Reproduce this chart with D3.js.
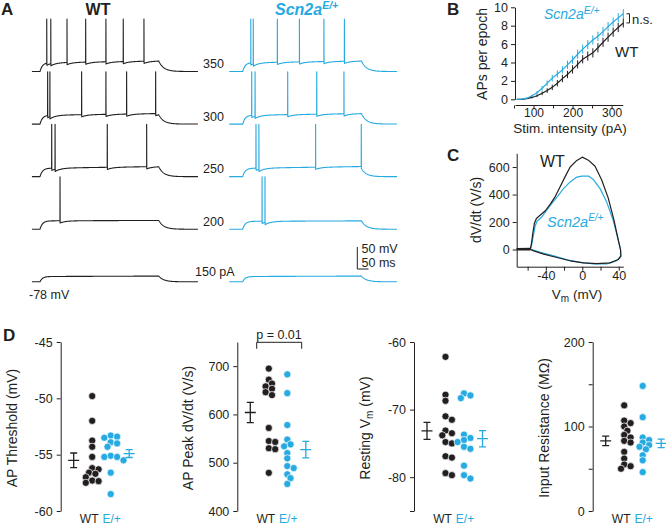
<!DOCTYPE html>
<html><head><meta charset="utf-8">
<script src="https://cdn.jsdelivr.net/npm/d3@7"></script>
<style>
body{margin:0;background:#fff}
svg{display:block}
text{font-family:"Liberation Sans",Arial,Helvetica,sans-serif;fill:#231f20}
</style>
</head><body>
<svg id="fig" width="666" height="526"></svg>
<script>
// ================= DATA =================
// Panel A: current steps (pA), spike times (ms), plateau depolarisation (mV)
const stepLabels = ["350", "300", "250", "200", "150 pA"];
const restVm = -78;          // mV
const spikePeakVm = 41;      // mV
const stepOnMs = 50, stepOffMs = 578;
const wtSpikeTimes = [
  [80, 98, 170, 253, 343, 420, 512],
  [84, 94, 235, 343, 435, 564],
  [102, 117, 349, 524],
  [139],
  []
];
const e2SpikeTimes = [
  [86, 97, 204, 302, 411, 502],
  [90, 105, 250, 379, 500],
  [109, 122, 374, 577],
  [136, 149],
  []
];
const wtPlateau = [20, 20, 19, 19, 12];
const e2Plateau = [20, 20, 19, 18, 12];
const plateauRamp = [4, 4, 4, 1, 1];

// Panel B: APs per epoch vs stimulus
const stimPA = [57, 70, 83, 96, 109, 122, 135, 148, 161, 174, 187, 200, 213, 226, 239, 252, 265, 278, 291, 304, 317, 330];
const apsWT  = [0, 0, 0.08, 0.2, 0.38, 0.65, 0.95, 1.3, 1.75, 2.25, 2.7, 3.25, 3.8, 4.35, 4.7, 5.05, 5.6, 6.2, 6.75, 7.3, 7.8, 8.3];
const semWT  = [0, 0, 0.05, 0.1, 0.15, 0.2, 0.25, 0.3, 0.35, 0.4, 0.4, 0.45, 0.45, 0.45, 0.5, 0.5, 0.5, 0.5, 0.5, 0.5, 0.5, 0.5];
const apsE2  = [0, 0.02, 0.12, 0.38, 0.72, 1.2, 1.75, 2.3, 2.75, 3.2, 3.75, 4.3, 4.9, 5.45, 5.95, 6.45, 6.85, 7.35, 7.9, 8.4, 8.85, 9.3];
const semE2  = [0, 0.02, 0.06, 0.12, 0.18, 0.25, 0.3, 0.35, 0.4, 0.4, 0.45, 0.45, 0.5, 0.5, 0.5, 0.5, 0.5, 0.5, 0.5, 0.5, 0.5, 0.5];

// Panel C: phase plots [Vm (mV), dV/dt (V/s)]
const phaseRest = [[-72, 2], [-57, 3]];
const phaseWT = [[-72.4, 2], [-57, 4], [-55.9, 40], [-54.5, 110], [-52.6, 190], [-50.4, 226], [-46, 251], [-40.6, 282],
  [-35.1, 330], [-29.6, 387], [-24.2, 459], [-18.7, 532], [-13.3, 600], [-6, 648], [0, 672], [6.7, 650], [14, 606],
  [21.2, 508], [28.5, 374], [34.7, 215], [39.5, 68], [42, -5], [42.4, -48], [39.5, -73], [30.4, -97], [15.9, -102],
  [1.4, -97], [-13.3, -82], [-27.8, -58], [-42.4, -34], [-53.3, -10], [-57, 0]];
const phaseE2 = [[-72.4, 2], [-57, 4], [-55.5, 35], [-53.7, 101], [-51.9, 167], [-49.7, 206], [-45.3, 231], [-40.6, 272],
  [-35.1, 321], [-27.8, 382], [-20.6, 443], [-13.3, 492], [-6, 527], [-0.5, 534], [6.7, 534], [12.2, 509], [19.5, 443],
  [26.8, 345], [34, 211], [39.5, 68], [42, 0], [42, -48], [37.7, -82], [26.8, -104], [12.2, -104], [-2.2, -94],
  [-16.7, -75], [-31.3, -46], [-45.9, -20], [-57, 4]];

// Panel D: individual cells and mean ± SEM
const groups = ["WT", "E/+"];
const thrWT = [-49.8, -52.0, -53.75, -54.3, -55.2, -56.2, -56.3, -56.6, -56.7, -57.0, -57.3, -57.35, -57.5];
const thrE2 = [-53.3, -53.4, -53.5, -53.9, -54.0, -54.3, -55.1, -55.2, -55.2, -55.5, -56.6, -58.5];
const thrMean = [-55.5, -54.9], thrSem = [0.65, 0.35];
const peakWT = [695, 672, 664, 658, 653, 646, 640, 572, 545, 543, 530, 528, 479];
const peakE2 = [683, 644, 578, 548, 538, 534, 520, 509, 493, 489, 476, 468, 456];
const peakMean = [604, 527], peakSem = [21, 17];
const vmWT = [-62.2, -67.8, -68.7, -71.0, -71.5, -73.1, -73.5, -73.8, -74.8, -75.0, -76.9, -77.1, -79.4, -79.7];
const vmE2 = [-67.6, -67.9, -68.3, -73.7, -74.2, -74.5, -74.8, -75.5, -75.8, -78.3, -79.7, -80.2];
const vmMean = [-73.15, -74.3], vmSem = [1.25, 1.2];
const riWT = [125, 107, 104, 100, 95, 90, 87, 83, 81, 70, 62, 55, 53, 50];
const riE2 = [148, 111, 87, 84, 81, 78, 76, 73, 66, 60, 46];
const riMean = [83, 80], riSem = [5.7, 5];

// ================= DRAWING =================
const BLACK = "#231f20", BLUE = "#27aae1";
const svg = d3.select("#fig");
const FONT = '"Liberation Sans",Arial,Helvetica,sans-serif';

function panelLetter(t, x, y) {
  svg.append("text").attr("x", x).attr("y", y).text(t)
    .style("font-size", "17px").style("font-weight", "bold");
}
function styleAxis(g, fs) {
  g.attr("color", BLACK);
  g.selectAll("path, line").attr("stroke", BLACK).attr("stroke-width", 1);
  g.selectAll("text").style("font-family", FONT).style("font-size", fs || "12.5px").attr("fill", BLACK);
}
function scnLabel(g, x, y, fs, supFs, opts) {
  const t = g.append("text").attr("x", x).attr("y", y).attr("fill", BLUE).style("fill", BLUE)
    .style("font-size", fs + "px").style("font-style", "italic");
  if (opts && opts.bold) t.style("font-weight", "bold");
  t.append("tspan").text("Scn2a");
  t.append("tspan").attr("dy", -fs * 0.38).style("font-size", supFs + "px").text("E/+");
  return t;
}

// ---------- Panel A ----------
panelLetter("A", 1, 15);
const tScale = d3.scaleLinear().domain([0, 50]).range([0, 11.25]);        // 50 ms = 11.25 px
const vScale = d3.scaleLinear().domain([restVm, restVm + 50]).range([0, -22]); // 50 mV = 22 px
const traceBase = d3.scaleLinear().domain([0, 4]).range([71.5, 281.8]);

function buildTrace(spikes, plat, ramp, t0, t1) {
  const tauOn = 11, tauOff = 22, ahp = 5, tauAhp = 25;
  const base = t => {
    let v = restVm;
    if (t > stepOnMs) {
      const tt = Math.min(t, stepOffMs);
      let d = plat * (1 - Math.exp(-(tt - stepOnMs) / tauOn)) + ramp * (tt - stepOnMs) / (stepOffMs - stepOnMs);
      if (t > stepOffMs) d *= Math.exp(-(t - stepOffMs) / tauOff);
      v += d;
    }
    spikes.forEach(s => { if (t > s) v -= ahp * Math.exp(-(t - s) / tauAhp); });
    return v;
  };
  let ts = [];
  for (let t = t0; t <= t1; t += 1.5) ts.push(t);
  spikes.forEach(s => ts.push(s - 0.3, s + 0.5, s + 1.5));
  ts.push(stepOnMs, stepOffMs, t1);
  ts = ts.filter(t => t >= t0 && t <= t1).sort((a, b) => a - b);
  const pts = ts.map(t => [t, base(t)]);
  spikes.forEach(s => pts.push([s, spikePeakVm]));
  pts.sort((a, b) => a[0] - b[0]);
  return pts;
}

function drawTraces(originX, spikeSets, plats, color, t0, t1) {
  spikeSets.forEach((sp, i) => {
    const pts = buildTrace(sp, plats[i], plateauRamp[i], t0, t1);
    const y0 = traceBase(i);
    const line = d3.line().x(d => originX + tScale(d[0])).y(d => y0 + vScale(d[1]));
    svg.append("path").datum(pts).attr("d", line).attr("fill", "none")
      .attr("stroke", color).attr("stroke-width", 1.1).attr("stroke-linejoin", "round");
  });
}
drawTraces(28.75, wtSpikeTimes, wtPlateau, BLACK, 14, 752);
drawTraces(231.45, e2SpikeTimes, e2Plateau, BLUE, -10, 736);

svg.append("text").attr("x", 98).attr("y", 15).attr("text-anchor", "middle")
  .style("font-size", "16px").style("font-weight", "bold").text("WT");
scnLabel(svg, 275, 15, 16, 10.5, { bold: true });

stepLabels.forEach((lab, i) => {
  const last = i === stepLabels.length - 1;
  svg.append("text").attr("x", last ? 195 : 203).attr("y", traceBase(i) - (last ? 5.5 : 3.2))
    .style("font-size", "12.5px").text(lab);
});
svg.append("text").attr("x", 29).attr("y", 299).style("font-size", "12.5px").text("-78 mV");

// scale bar
const sbX = 357.3, sbY = 269;
svg.append("path").attr("fill", "none").attr("stroke", BLACK).attr("stroke-width", 1)
  .attr("d", `M${sbX},${sbY + vScale(restVm + 50)}V${sbY}H${sbX + tScale(50)}`);
svg.append("text").attr("x", 361.5).attr("y", 252.5).style("font-size", "12.5px").text("50 mV");
svg.append("text").attr("x", 361.5).attr("y", 266.5).style("font-size", "12.5px").text("50 ms");

// ---------- Panel B ----------
panelLetter("B", 447, 15);
const xB = d3.scaleLinear().domain([50, 330]).range([514, 623.3]);
const yB = d3.scaleLinear().domain([0, 10]).range([99.3, 7.3]);
const gBy = svg.append("g").attr("transform", "translate(515,0)")
  .call(d3.axisLeft(yB).tickValues([0, 2, 4, 6, 8, 10]).tickSize(4).tickSizeOuter(0).tickPadding(3));
styleAxis(gBy);
const gBx = svg.append("g").attr("transform", "translate(0,105.5)")
  .call(d3.axisBottom(xB).tickValues([50, 100, 150, 200, 250, 300]).tickSize(3).tickSizeOuter(0).tickPadding(0)
    .tickFormat(d => (d % 100 === 0 ? d : "")));
styleAxis(gBx, "12px");
gBx.select(".domain").attr("d", `M${xB(50) + 1.5},0H${xB(330)}`);

function drawCurve(vals, sems, color) {
  const g = svg.append("g");
  g.selectAll("line").data(stimPA).join("line")
    .attr("x1", (d, i) => xB(d)).attr("x2", (d, i) => xB(d))
    .attr("y1", (d, i) => yB(vals[i] - sems[i])).attr("y2", (d, i) => yB(vals[i] + sems[i]))
    .attr("stroke", color).attr("stroke-width", 1);
  g.append("path").datum(stimPA.map((s, i) => [s, vals[i]]))
    .attr("d", d3.line().x(d => xB(d[0])).y(d => yB(d[1])))
    .attr("fill", "none").attr("stroke", color).attr("stroke-width", 1.2);
}
drawCurve(apsWT, semWT, BLACK);
drawCurve(apsE2, semE2, BLUE);
scnLabel(svg, 544, 19, 14, 10.5, {});
svg.append("text").attr("x", 615).attr("y", 57).style("font-size", "15px").text("WT");
const nsTop = yB(apsE2[apsE2.length - 1]), nsBot = yB(apsWT[apsWT.length - 1]);
svg.append("path").attr("fill", "none").attr("stroke", BLACK).attr("stroke-width", 1)
  .attr("d", `M626.5,${nsTop}H629.5V${nsBot}H626.5`);
svg.append("text").attr("x", 632).attr("y", 23.5).style("font-size", "13px").text("n.s.");
svg.append("text").attr("transform", "translate(487,54) rotate(-90)").attr("text-anchor", "middle")
  .style("font-size", "14px").text("APs per epoch");
svg.append("text").attr("x", 570).attr("y", 133).attr("text-anchor", "middle")
  .style("font-size", "13.5px").text("Stim. intensity (pA)");

// ---------- Panel C ----------
panelLetter("C", 447, 161);
const xC = d3.scaleLinear().domain([-72, 45]).range([516.7, 623.3]);
const yC = d3.scaleLinear().domain([-125, 700]).range([266.7, 153.3]);
const gCy = svg.append("g").attr("transform", "translate(516.7,0)")
  .call(d3.axisLeft(yC).tickValues([0, 200, 400, 600]).tickSize(4).tickSizeOuter(0).tickPadding(3));
styleAxis(gCy);
const gCx = svg.append("g").attr("transform", "translate(0,266.7)")
  .call(d3.axisBottom(xC).tickValues([-60, -40, -20, 0, 20, 40]).tickSize(4).tickSizeOuter(0).tickPadding(0)
    .tickFormat(d => (d % 40 === 0 ? String(d) : "")));
styleAxis(gCx);
const phaseLine = d3.line().x(d => xC(d[0])).y(d => yC(d[1]));
svg.append("path").datum(phaseE2).attr("d", phaseLine).attr("fill", "none")
  .attr("stroke", BLUE).attr("stroke-width", 1.2).attr("stroke-linejoin", "round");
svg.append("path").datum(phaseWT).attr("d", phaseLine).attr("fill", "none")
  .attr("stroke", BLACK).attr("stroke-width", 1.2).attr("stroke-linejoin", "round");
svg.append("path").datum(phaseRest).attr("d", phaseLine).attr("fill", "none")
  .attr("stroke", BLACK).attr("stroke-width", 2.6);
svg.append("text").attr("x", 540).attr("y", 167).style("font-size", "16px").text("WT");
scnLabel(svg, 547, 227, 14.5, 10, {});
svg.append("text").attr("transform", "translate(481,210) rotate(-90)").attr("text-anchor", "middle")
  .style("font-size", "14px").text("dV/dt (V/s)");
const vmLab = svg.append("text").attr("x", 577).attr("y", 298.5).attr("text-anchor", "middle").style("font-size", "13.5px");
vmLab.append("tspan").text("V");
vmLab.append("tspan").attr("dy", 3).style("font-size", "10px").text("m");
vmLab.append("tspan").attr("dy", -3).text(" (mV)");

// ---------- Panel D ----------
panelLetter("D", 3, 341);
const dTop = 342, dBot = 511;
const dPanels = [
  { ax: 60.7, domain: [-60, -45], ticks: [-60, -55, -50, -45], fmt: d => String(d), wt: thrWT, e2: thrE2, mean: thrMean, sem: thrSem,
    label: [{ t: "AP Threshold (mV)" }] },
  { ax: 237.3, domain: [400, 750], ticks: [400, 500, 600, 700], fmt: d => String(d), wt: peakWT, e2: peakE2, mean: peakMean, sem: peakSem,
    label: [{ t: "AP Peak dV/dt (V/s)" }] },
  { ax: 414, domain: [-85, -60], ticks: [-85, -80, -70, -60], fmt: d => (d === -85 ? "" : String(d)), wt: vmWT, e2: vmE2, mean: vmMean, sem: vmSem,
    label: [{ t: "Resting V" }, { t: "m", sub: true }, { t: " (mV)" }] },
  { ax: 592.7, domain: [0, 200], ticks: [0, 50, 100, 150, 200], fmt: d => (d % 100 === 0 ? String(d) : ""), wt: riWT, e2: riE2, mean: riMean, sem: riSem,
    label: [{ t: "Input Resistance (MΩ)" }] }
];

function swarm(values, y, cx) {
  const minD = 5.0, step = 3.2;
  const pts = values.map(v => ({ v, y: y(v) })).sort((a, b) => a.y - b.y);
  const placed = [];
  pts.forEach(p => {
    const offs = [0];
    for (let k = 1; k < 8; k++) offs.push(k * step, -k * step);
    for (const o of offs) {
      if (placed.every(q => Math.hypot(q.x - (cx + o), q.y - p.y) >= minD)) { p.x = cx + o; break; }
    }
    if (p.x === undefined) p.x = cx;
    placed.push(p);
  });
  return placed;
}

dPanels.forEach(P => {
  const y = d3.scaleLinear().domain(P.domain).range([dBot, dTop]);
  const xPos = d3.scalePoint().domain(["mWT", "WT", "E/+", "mE2"]).range([P.ax + 13, P.ax + 68.5]);
  const ga = svg.append("g").attr("transform", `translate(${P.ax},0)`)
    .call(d3.axisLeft(y).tickValues(P.ticks).tickFormat(P.fmt).tickSize(4).tickSizeOuter(0).tickPadding(4));
  styleAxis(ga);
  // y label
  const lab = svg.append("text").attr("transform", `translate(${P.ax - 44},428) rotate(-90)`)
    .attr("text-anchor", "middle").style("font-size", "14px");
  P.label.forEach(s => {
    const ts = lab.append("tspan").text(s.t);
    if (s.sub) ts.attr("dy", 3).style("font-size", "10px");
    else if (lab.selectAll("tspan").size() > 1) ts.attr("dy", -3);
  });
  // dots
  [[P.wt, "WT", BLACK], [P.e2, "E/+", BLUE]].forEach(([vals, key, col]) => {
    const pts = swarm(vals, y, xPos(key));
    svg.append("g").selectAll("circle").data(pts).join("circle")
      .attr("cx", d => d.x).attr("cy", d => d.y).attr("r", 3.6)
      .attr("fill", col).attr("stroke", "#fff").attr("stroke-width", 0.7);
  });
  // mean ± SEM
  [["mWT", 0, BLACK], ["mE2", 1, BLUE]].forEach(([key, i, col]) => {
    const cx = xPos(key), m = P.mean[i], s = P.sem[i];
    svg.append("path").attr("fill", "none").attr("stroke", col).attr("stroke-width", 1.3)
      .attr("d", `M${cx},${y(m - s)}V${y(m + s)}M${cx - 3.5},${y(m + s)}H${cx + 3.5}M${cx - 3.5},${y(m - s)}H${cx + 3.5}M${cx - 5.5},${y(m)}H${cx + 5.5}`);
  });
  // group labels
  svg.append("text").attr("x", xPos("WT") - 3).attr("y", 523).attr("text-anchor", "middle")
    .style("font-size", "12px").text("WT");
  svg.append("text").attr("x", xPos("E/+") + 1).attr("y", 523).attr("text-anchor", "middle")
    .attr("fill", BLUE).style("fill", BLUE).style("font-size", "12px").text("E/+");
  if (P.wt === peakWT) {
    const bx0 = 256.7, bx1 = 301.7, by = 342.3;
    svg.append("path").attr("fill", "none").attr("stroke", BLACK).attr("stroke-width", 1)
      .attr("d", `M${bx0},${by + 6.5}V${by}H${bx1}V${by + 6.5}`);
    svg.append("text").attr("x", 279).attr("y", 338.5).attr("text-anchor", "middle")
      .style("font-size", "12.5px").text("p = 0.01");
  }
});
</script>
</body></html>
